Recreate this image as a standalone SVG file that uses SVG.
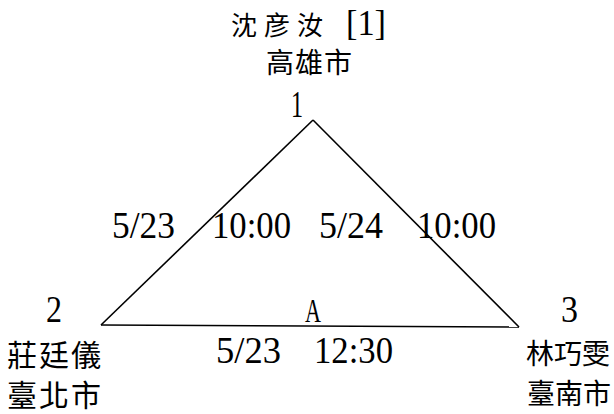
<svg xmlns="http://www.w3.org/2000/svg" width="614" height="414" viewBox="0 0 614 414">
<style>
.cjk{font-family:"Noto Sans CJK TC","Noto Sans CJK SC",sans-serif;fill:#000}
.num{font-family:"Liberation Serif",serif;fill:#000}
.edge{stroke:#000;stroke-width:1.6;fill:none}
</style>
<rect width="614" height="414" fill="#fff"/>
<g id="connectors">
<line class="edge" x1="313" y1="120" x2="101" y2="325"/>
<line class="edge" x1="313" y1="120" x2="519" y2="327"/>
<line class="edge" x1="101" y1="325" x2="519" y2="327"/>
</g>
<g id="node1">
<text class="cjk" x="231" y="35" font-size="26" letter-spacing="7">沈彦汝</text>
<text class="num" x="346" y="35" font-size="36" textLength="40" lengthAdjust="spacingAndGlyphs">[1]</text>
<text class="cjk" x="266" y="73" font-size="28" letter-spacing="1">高雄市</text>
<text class="num" x="291" y="117" font-size="38" textLength="12" lengthAdjust="spacingAndGlyphs">1</text>
</g>
<g id="node2">
<text class="num" x="46" y="322" font-size="38" textLength="16" lengthAdjust="spacingAndGlyphs">2</text>
<text class="cjk" x="7" y="366" font-size="30" letter-spacing="2">莊廷儀</text>
<text class="cjk" x="7" y="406" font-size="30" letter-spacing="2">臺北市</text>
</g>
<g id="node3">
<text class="num" x="561" y="322" font-size="38" textLength="17" lengthAdjust="spacingAndGlyphs">3</text>
<text class="cjk" x="526" y="364" font-size="28">林巧雯</text>
<text class="cjk" x="527" y="404" font-size="28">臺南市</text>
</g>
<g id="labels">
<text class="num" x="112" y="238" font-size="38" textLength="63" lengthAdjust="spacingAndGlyphs">5/23</text>
<text class="num" x="212" y="238" font-size="38" textLength="79" lengthAdjust="spacingAndGlyphs">10:00</text>
<text class="num" x="319" y="238" font-size="38" textLength="64" lengthAdjust="spacingAndGlyphs">5/24</text>
<text class="num" x="417" y="238" font-size="38" textLength="79" lengthAdjust="spacingAndGlyphs">10:00</text>
<text class="num" x="305" y="322" font-size="33" textLength="16" lengthAdjust="spacingAndGlyphs">A</text>
<text class="num" x="216" y="363" font-size="38" textLength="65" lengthAdjust="spacingAndGlyphs">5/23</text>
<text class="num" x="314" y="363" font-size="38" textLength="79" lengthAdjust="spacingAndGlyphs">12:30</text>
</g>
</svg>
